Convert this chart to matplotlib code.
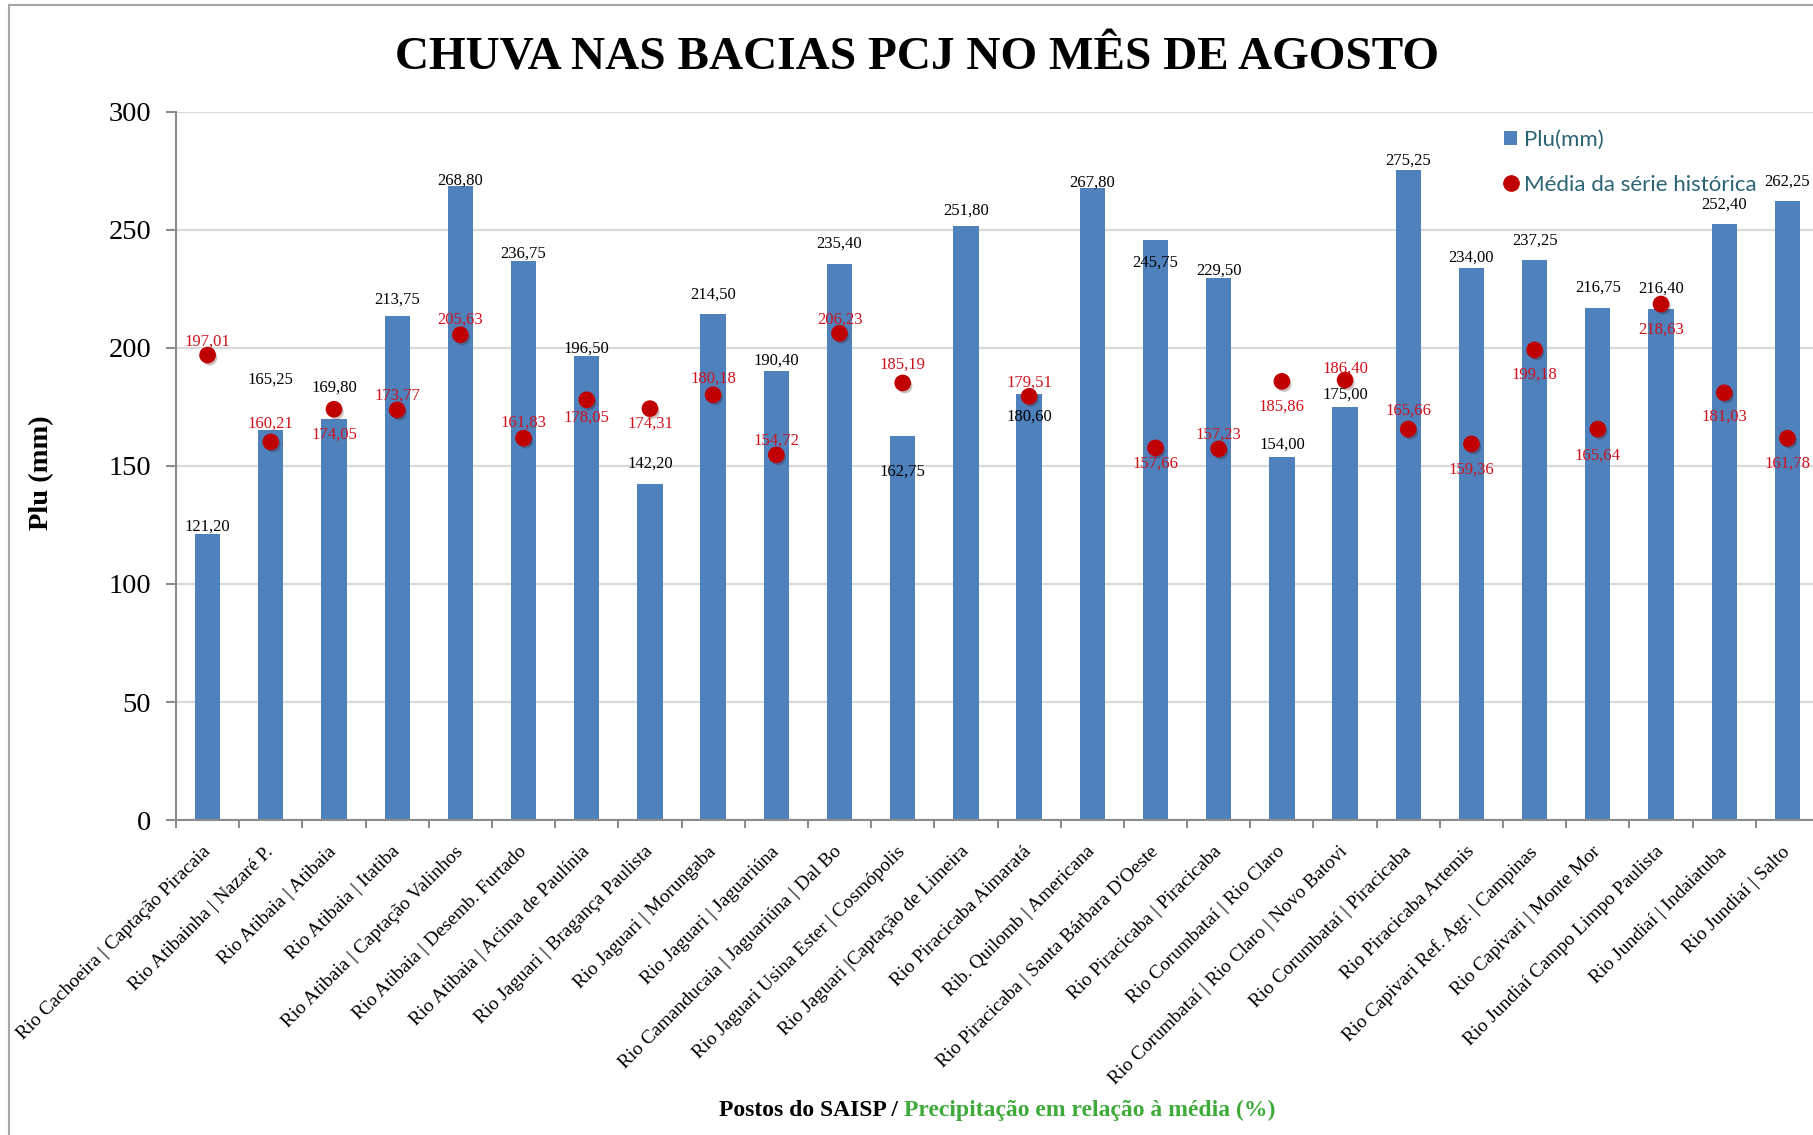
import matplotlib
matplotlib.use("Agg")
import matplotlib.pyplot as plt
import matplotlib.patheffects as pe
from matplotlib.lines import Line2D
from matplotlib.patches import Patch
from matplotlib.ticker import FixedLocator
import numpy as np

stations = [
    "Rio Cachoeira | Captação Piracaia",
    "Rio Atibainha | Nazaré P.",
    "Rio Atibaia | Atibaia",
    "Rio Atibaia | Itatiba",
    "Rio Atibaia | Captação Valinhos",
    "Rio Atibaia | Desemb. Furtado",
    "Rio Atibaia | Acima de Paulínia",
    "Rio Jaguari | Bragança Paulista",
    "Rio Jaguari | Morungaba",
    "Rio Jaguari | Jaguariúna",
    "Rio Camanducaia | Jaguariúna | Dal Bo",
    "Rio Jaguari Usina Ester | Cosmópolis",
    "Rio Jaguari |Captação de Limeira",
    "Rio Piracicaba Aimaratá",
    "Rib. Quilomb | Americana",
    "Rio Piracicaba | Santa Bárbara D'Oeste",
    "Rio Piracicaba | Piracicaba",
    "Rio Corumbataí | Rio Claro",
    "Rio Corumbataí | Rio Claro | Novo Batovi",
    "Rio Corumbataí | Piracicaba",
    "Rio Piracicaba Artemis",
    "Rio Capivari Ref. Agr. | Campinas",
    "Rio Capivari | Monte Mor",
    "Rio Jundiaí Campo Limpo Paulista",
    "Rio Jundiaí | Indaiatuba",
    "Rio Jundiaí | Salto",
]

plu = [121.20, 165.25, 169.80, 213.75, 268.80, 236.75, 196.50, 142.20, 214.50,
       190.40, 235.40, 162.75, 251.80, 180.60, 267.80, 245.75, 229.50, 154.00,
       175.00, 275.25, 234.00, 237.25, 216.75, 216.40, 252.40, 262.25]

media = [197.01, 160.21, 174.05, 173.77, 205.63, 161.83, 178.05, 174.31, 180.18,
         154.72, 206.23, 185.19, np.nan, 179.51, np.nan, 157.66, 157.23, 185.86,
         186.40, 165.66, 159.36, 199.18, 165.64, 218.63, 181.03, 161.78]

# vertical offsets of the value labels, in points (negative = below the mark)
plu_off = [5.6, 36.6, 23, 11.6, 3.8, 5.8, 5.8, 15, 14, 7.2, 15, -25.8, 10.8,
           -16.6, 3.9, -16, 5.8, 8.3, 9.2, 7.1, 7.2, 14, 15, 14.6, 14, 14]
media_off = [10, 13.3, -18.3, 10.4, 11.2, 10.8, -12.5, -10.5, 11.6, 10, 10, 13.3, 0,
             10, 0, -11.3, 10, -18.3, 8.3, 13.3, -18.3, -17.5, -19, -18.3, -17.5, -18.3]

BLUE = '#4f81bd'
RED = '#c00000'
SERIF = 'Liberation Serif'

W, H = 1813, 1135
fig = plt.figure(figsize=(W / 100, H / 100), dpi=100)
ax = fig.add_axes([176 / W, 1 - 820 / H, (1819 - 176) / W, (820 - 112) / H])

x = np.arange(len(stations))
ax.bar(x, plu, width=0.4, color=BLUE, zorder=2)
ax.plot(x, media, 'o', color=RED, markersize=11, linestyle='none', zorder=3,
        path_effects=[pe.SimplePatchShadow(offset=(1.5, -2), alpha=0.25), pe.Normal()])

def fmt(v):
    return f"{v:.2f}".replace('.', ',')

for i, v in enumerate(plu):
    ax.annotate(fmt(v), (i, v), xytext=(0, plu_off[i]), textcoords='offset points',
                ha='center', va='center', fontsize=12, family=SERIF, color='black', zorder=4)
for i, v in enumerate(media):
    if np.isnan(v):
        continue
    ax.annotate(fmt(v), (i, v), xytext=(0, media_off[i]), textcoords='offset points',
                ha='center', va='center', fontsize=12, family=SERIF, color='#d0101a', zorder=4)

ax.set_xlim(-0.5, len(stations) - 0.5)
ax.set_ylim(0, 300)
ax.set_yticks(np.arange(0, 301, 50))
ax.yaxis.grid(True, color='#d9d9d9', lw=1.6, zorder=0)
ax.set_axisbelow(True)
for s in ('top', 'right'):
    ax.spines[s].set_visible(False)
for s in ('left', 'bottom'):
    ax.spines[s].set_color('#8c8c8c')
    ax.spines[s].set_linewidth(1.5)

ax.tick_params(axis='y', length=7, width=1.5, color='#8c8c8c', pad=11,
               labelsize=20.5, labelfontfamily=SERIF)
ax.set_xticks(x)
ax.set_xticklabels(stations, rotation=45, ha='right', va='center',
                   rotation_mode='anchor', fontsize=14, family=SERIF)
ax.tick_params(axis='x', which='major', length=0, pad=21)
ax.xaxis.set_minor_locator(FixedLocator(np.arange(-0.5, len(stations), 1)))
ax.tick_params(axis='x', which='minor', length=6, width=1.5, color='#8c8c8c')

ax.set_ylabel('Plu (mm)', fontsize=20.5, fontweight='bold', family=SERIF)
ax.yaxis.set_label_coords(-0.074, 0.49)

fig.text(917 / W, 1 - 58 / H, 'CHUVA NAS BACIAS PCJ NO MÊS DE AGOSTO', ha='center', va='center',
         fontsize=34, fontweight='bold', family=SERIF)

# two-colour axis title
fig.canvas.draw()
r = fig.canvas.get_renderer()
t1 = fig.text(0, 1 - 1110 / H, 'Postos do SAISP / ', fontsize=17, fontweight='bold',
              family=SERIF, va='center', ha='left')
t2 = fig.text(0, 1 - 1110 / H, 'Precipitação em relação à média (%)', fontsize=17,
              fontweight='bold', family=SERIF, va='center', ha='left', color='#3daa3a')
w1 = t1.get_window_extent(r).width
w2 = t2.get_window_extent(r).width
x0 = 997 - (w1 + w2) / 2
t1.set_x(x0 / W)
t2.set_x((x0 + w1) / W)

handles = [Patch(facecolor=BLUE, edgecolor='none'),
           Line2D([], [], marker='o', color=RED, linestyle='none', markersize=11)]
leg = fig.legend(handles, ['Plu(mm)', 'Média da série histórica'], loc='upper left',
                 bbox_to_anchor=(1504 / W, 1 - 130 / H), frameon=False,
                 prop={'family': 'Lato', 'size': 16}, handlelength=0.6, handleheight=0.6,
                 handletextpad=0.3, borderpad=0, borderaxespad=0, labelspacing=1.12)
for t in leg.get_texts():
    t.set_color('#2a6474')

# outer frame (cropped at right and bottom)
fig.add_artist(Line2D([9 / W, 9 / W], [0, 1 - 5 / H], transform=fig.transFigure,
                      color='#a6a6a6', lw=1.5))
fig.add_artist(Line2D([9 / W, 1], [1 - 5 / H, 1 - 5 / H], transform=fig.transFigure,
                      color='#a6a6a6', lw=1.5))

fig.savefig('out.png', dpi=100)
